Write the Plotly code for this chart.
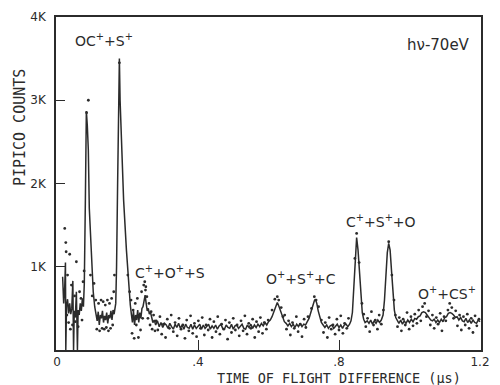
import plotly.graph_objects as go

# ---- data ----
line_x = [0.016, 0.019, 0.022, 0.024, 0.025, 0.027, 0.030, 0.033, 0.036, 0.039, 0.042, 0.045, 0.047, 0.049,
          0.052, 0.055, 0.058, 0.060, 0.063, 0.066, 0.069, 0.072, 0.075, 0.0775, 0.0805, 0.0833, 0.086, 0.0889,
          0.0917, 0.0972, 0.1028, 0.107, 0.111, 0.114, 0.117, 0.120, 0.123, 0.126, 0.129, 0.132, 0.135, 0.138,
          0.141, 0.144, 0.147, 0.150, 0.153, 0.156, 0.159, 0.162, 0.1667, 0.169, 0.172, 0.175, 0.177, 0.179,
          0.183, 0.189, 0.197, 0.203, 0.208, 0.211, 0.214, 0.217, 0.220, 0.223, 0.226, 0.229, 0.232, 0.235,
          0.238, 0.241, 0.244, 0.247, 0.250, 0.253, 0.256, 0.259, 0.262, 0.265, 0.268, 0.272, 0.276,
          0.280, 0.285, 0.290, 0.295, 0.300, 0.305, 0.310, 0.315, 0.320, 0.325, 0.330, 0.335, 0.340, 0.345,
          0.350, 0.355, 0.360, 0.365, 0.370, 0.375, 0.380, 0.385, 0.390, 0.395, 0.400, 0.405, 0.410, 0.415,
          0.420, 0.425, 0.430, 0.435, 0.440, 0.445, 0.450, 0.455, 0.460, 0.465, 0.470, 0.475, 0.480, 0.485,
          0.490, 0.495, 0.500, 0.505, 0.510, 0.515, 0.520, 0.525, 0.530, 0.535, 0.540, 0.545, 0.550, 0.555,
          0.560, 0.565, 0.570, 0.575, 0.580, 0.585, 0.590, 0.595, 0.600, 0.605, 0.610, 0.615, 0.620, 0.625,
          0.630, 0.635, 0.640, 0.645, 0.650, 0.655, 0.660, 0.665, 0.670, 0.675, 0.680, 0.685, 0.690, 0.695,
          0.700, 0.705, 0.710, 0.715, 0.720, 0.725, 0.730, 0.733, 0.737, 0.741, 0.745, 0.750, 0.755, 0.760,
          0.765, 0.770, 0.775, 0.780, 0.785, 0.790, 0.795, 0.800, 0.805, 0.810, 0.815, 0.820, 0.825, 0.830,
          0.834, 0.838, 0.842, 0.846, 0.850, 0.854, 0.858, 0.862, 0.866, 0.870, 0.874, 0.880, 0.885, 0.890,
          0.895, 0.900, 0.905, 0.910, 0.915, 0.920, 0.925, 0.929, 0.933, 0.937, 0.941, 0.945, 0.949, 0.953,
          0.957, 0.961, 0.965, 0.970, 0.975, 0.980, 0.985, 0.990, 0.995, 1.000, 1.005, 1.010, 1.015, 1.020,
          1.025, 1.030, 1.035, 1.040, 1.045, 1.050, 1.055, 1.060, 1.065, 1.070, 1.075, 1.080, 1.085, 1.090,
          1.095, 1.100, 1.105, 1.110, 1.115, 1.120, 1.125, 1.130, 1.135, 1.140, 1.145, 1.150, 1.155, 1.160,
          1.165, 1.170, 1.175, 1.180, 1.185, 1.190, 1.195, 1.200]
line_y = [880, 560, 760, 1050, 0, 520, 610, 440, 560, 430, 500, 830, 0, 470,
          390, 700, 0, 480, 420, 560, 470, 620, 520, 800, 1800, 2870, 2700, 2400,
          1700, 1200, 700, 520, 430, 350, 460, 300, 420, 380, 470, 330, 410, 360,
          450, 320, 420, 380, 470, 360, 480, 430, 560, 1000, 2000, 3000, 3500, 3000,
          2400, 1800, 1200, 800, 540, 430, 330, 470, 300, 420, 360, 480, 330, 450,
          380, 500, 520, 590, 660, 560, 470, 500, 430, 460, 380, 330, 360,
          300, 350, 280, 330, 270, 320, 300, 260, 320, 280, 250, 310, 270, 320,
          260, 300, 250, 310, 270, 260, 310, 250, 300, 260, 290, 310, 250, 300,
          260, 290, 310, 250, 290, 260, 300, 250, 290, 310, 260, 250, 300, 270,
          260, 310, 250, 290, 300, 260, 290, 310, 260, 250, 300, 270, 310, 260,
          300, 270, 310, 280, 320, 290, 330, 300, 340, 360, 400, 460, 530, 570,
          520, 450, 390, 340, 320, 290, 320, 280, 310, 270, 310, 280, 320, 280,
          310, 300, 340, 380, 450, 530, 590, 610, 560, 470, 390, 330, 300, 270,
          300, 260, 290, 300, 260, 290, 310, 270, 300, 260, 300, 310, 280, 310,
          350, 450, 800, 1150, 1350, 1200, 900, 620, 450, 370, 330, 350, 320, 360,
          310, 350, 320, 360, 330, 360, 420, 600, 900, 1170, 1280, 1200, 950, 680,
          480, 390, 350, 320, 360, 310, 350, 320, 360, 330, 370, 340, 380, 370,
          400, 410, 450, 460, 450, 420, 390, 360, 350, 370, 330, 360, 330, 370,
          340, 390, 400, 440, 450, 440, 420, 390, 400, 360, 390, 350, 340, 380,
          330, 360, 320, 360, 330, 320, 360, 340]

dot_x = [0.022, 0.025, 0.026, 0.036, 0.055, 0.030, 0.041, 0.050, 0.064, 0.068, 0.033, 0.044, 0.060, 0.071,
         0.038, 0.028, 0.052, 0.074, 0.077,
         0.089, 0.084, 0.095, 0.100,
         0.105, 0.110, 0.113, 0.118, 0.121, 0.125, 0.128, 0.131, 0.134, 0.137, 0.140, 0.143, 0.146, 0.149,
         0.152, 0.155, 0.158, 0.161, 0.163,
         0.177, 0.201, 0.206,
         0.210, 0.213, 0.216, 0.219, 0.222, 0.225, 0.228, 0.231, 0.234, 0.237, 0.240, 0.243, 0.246, 0.249,
         0.252, 0.251, 0.255, 0.258, 0.261, 0.264, 0.267, 0.270, 0.274, 0.278,
         0.281, 0.286, 0.292, 0.297, 0.302, 0.308, 0.313, 0.319, 0.324, 0.330, 0.335, 0.341, 0.346, 0.352,
         0.357, 0.363, 0.368, 0.374, 0.379, 0.385, 0.390, 0.396, 0.401, 0.407, 0.412, 0.418, 0.423, 0.429,
         0.434, 0.440, 0.445, 0.451, 0.456, 0.462, 0.467, 0.473, 0.478, 0.484, 0.489, 0.495, 0.500, 0.506,
         0.511, 0.517, 0.522, 0.528, 0.533, 0.539, 0.544, 0.550, 0.555, 0.561, 0.566, 0.572, 0.577, 0.583,
         0.588, 0.594, 0.599,
         0.610, 0.618, 0.625, 0.629, 0.636, 0.641,
         0.646, 0.651, 0.657, 0.662, 0.668, 0.673, 0.679, 0.684, 0.690, 0.695, 0.701, 0.706,
         0.712, 0.722, 0.730, 0.735, 0.742,
         0.750, 0.756, 0.761, 0.767, 0.772, 0.778, 0.783, 0.789, 0.794, 0.800, 0.805, 0.811, 0.816, 0.822,
         0.827,
         0.850, 0.845, 0.857, 0.865,
         0.870, 0.876, 0.881, 0.887, 0.892, 0.898, 0.903, 0.909, 0.914, 0.920, 0.926,
         0.941, 0.950, 0.956,
         0.960, 0.966, 0.971, 0.977, 0.982, 0.988, 0.993, 0.999, 1.004, 1.010, 1.015, 1.021, 1.026, 1.032,
         1.037, 1.043, 1.048, 1.054, 1.059, 1.065, 1.070, 1.076, 1.081, 1.087, 1.092, 1.098, 1.103, 1.109,
         1.114, 1.120, 1.125, 1.131, 1.136, 1.142, 1.147, 1.153, 1.158, 1.164, 1.169, 1.175, 1.180, 1.186,
         1.191, 1.197]
dot_y = [1460, 1290, 1180, 1150, 1060, 900, 780, 650, 700, 620, 330, 300, 280, 360,
         250, 420, 340, 820, 950,
         3000, 2850, 900, 650,
         800, 600, 250, 560, 230, 600, 260, 580, 250, 540, 270, 600, 230, 560,
         260, 620, 300, 700, 900,
         3450, 900, 700,
         600, 200, 480, 140, 560, 300, 620, 150, 420, 240, 700, 380, 780, 820,
         760, 720, 640, 380, 560, 300, 460, 250, 420, 230,
         350, 240, 400, 190, 310, 150, 370, 260, 420, 220, 330, 170, 380, 250,
         300, 140, 360, 230, 410, 200, 320, 160, 350, 260, 390, 180, 300, 240,
         370, 150, 340, 220, 400, 190, 310, 250, 360, 130, 330, 210, 380, 240,
         300, 170, 350, 230, 410, 190, 320, 260, 370, 150, 340, 220, 390, 200,
         330, 250, 360,
         480, 610, 640, 600, 510, 400,
         420, 250, 350, 180, 330, 260, 400, 220, 310, 160, 370, 270,
         400, 500, 640, 600, 520,
         360, 210, 330, 150, 390, 250, 300, 190, 370, 240, 410, 200, 320, 260,
         380,
         1400, 1100, 1050, 560,
         430, 280, 380, 220, 460, 300, 360, 250, 420, 310, 480,
         1300, 900, 600,
         420, 280, 390, 230, 370, 300, 450, 250, 400, 290, 430, 320, 480, 350,
         520, 560, 400, 470, 300, 420, 260, 390, 310, 440, 230, 400, 350, 480,
         560, 510, 380, 470, 290, 420, 240, 400, 300, 430, 260, 380, 210, 410,
         290, 370]

x_tick_vals = [0, 0.4, 0.8, 1.2]
x_tick_text = ["0", ".4", ".8", "1.2"]
y_tick_vals = [1000, 2000, 3000, 4000]
y_tick_text = ["1K", "2K", "3K", "4K"]

labels = ["OC<sup>+</sup>+S<sup>+</sup>", "hν-70eV", "C<sup>+</sup>+O<sup>+</sup>+S",
          "O<sup>+</sup>+S<sup>+</sup>+C", "C<sup>+</sup>+S<sup>+</sup>+O", "O<sup>+</sup>+CS<sup>+</sup>"]
label_x = [0.132, 1.083, 0.320, 0.693, 0.918, 1.105]
label_y = [3725, 3665, 943, 860, 1552, 680]
label_size = [14, 15, 14, 14, 14, 14]

INK = "#2b2b2b"
SANS = "DejaVu Sans"
MONO = "DejaVu Sans Mono"

fig = go.Figure()
fig.add_trace(go.Scatter(x=dot_x, y=dot_y, mode="markers",
                         marker=dict(size=2.8, color=INK), hoverinfo="skip", showlegend=False))
fig.add_trace(go.Scatter(x=line_x, y=line_y, mode="lines",
                         line=dict(color=INK, width=1.5), hoverinfo="skip", showlegend=False))

for t, x, y, s in zip(labels, label_x, label_y, label_size):
    fig.add_annotation(x=x, y=y, text=t, showarrow=False, xanchor="center", yanchor="middle",
                       font=dict(family=SANS, size=s, color=INK))

fig.add_annotation(xref="paper", yref="paper", x=0.666, y=-0.085, text="TIME OF FLIGHT DIFFERENCE (µs)",
                   showarrow=False, xanchor="center", yanchor="middle",
                   font=dict(family=MONO, size=13.5, color=INK))
fig.add_annotation(xref="paper", yref="paper", x=-0.085, y=0.669, text="PIPICO COUNTS", textangle=-90,
                   showarrow=False, xanchor="center", yanchor="middle",
                   font=dict(family=MONO, size=15, color=INK))

fig.update_xaxes(range=[-0.0028, 1.2028], tickvals=x_tick_vals, ticktext=x_tick_text,
                 ticks="inside", ticklen=10, tickwidth=1.3, tickcolor=INK,
                 showline=True, mirror=True, linecolor=INK, linewidth=1.5,
                 showgrid=False, zeroline=False, ticklabelstandoff=0,
                 tickfont=dict(family=SANS, size=12, color=INK))
fig.update_yaxes(range=[0, 4000], tickvals=y_tick_vals, ticktext=y_tick_text,
                 ticks="inside", ticklen=9, tickwidth=1.3, tickcolor=INK,
                 showline=True, mirror=True, linecolor=INK, linewidth=1.5,
                 showgrid=False, zeroline=False, ticklabelstandoff=6,
                 tickfont=dict(family=SANS, size=12, color=INK))

fig.update_layout(width=500, height=385, margin=dict(l=56, r=10, t=15, b=35),
                  plot_bgcolor="white", paper_bgcolor="white")

fig.write_html("out.html")
